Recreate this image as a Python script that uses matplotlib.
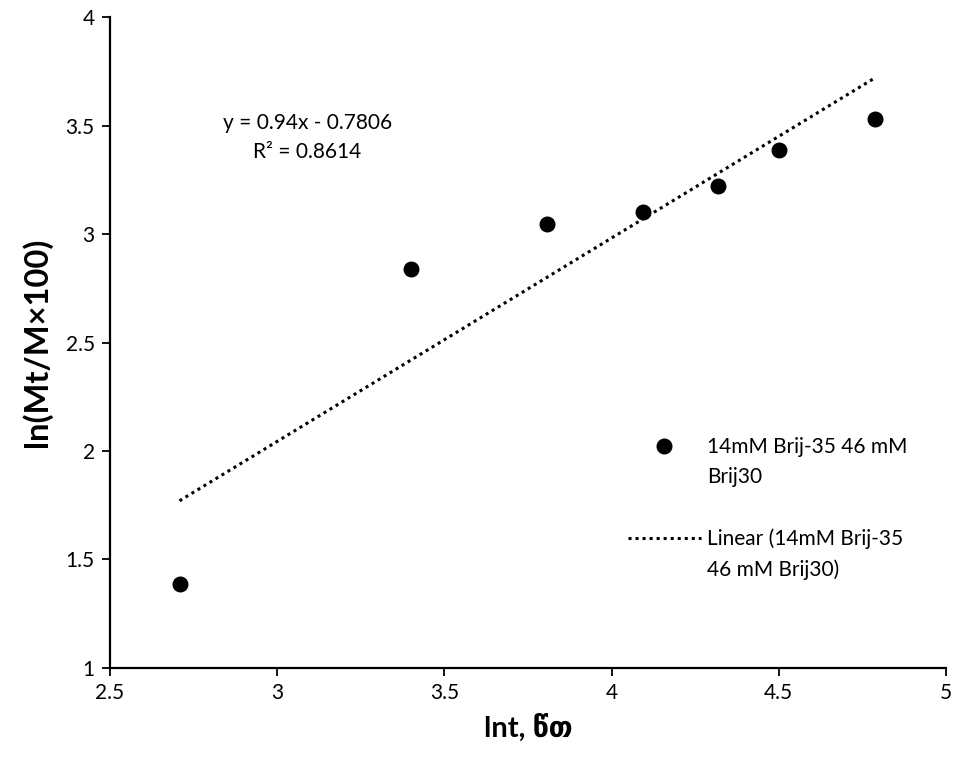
import matplotlib
import numpy as np

matplotlib.use("Agg")
import matplotlib.pyplot as plt
from matplotlib.lines import Line2D

plt.rcParams["font.family"] = ["Lato", "DejaVu Sans"]

# ln(t), t in minutes: 15, 30, 45, 60, 75, 90, 120
LN_T = [2.708, 3.401, 3.807, 4.094, 4.317, 4.500, 4.787]
LN_RELEASE = [1.386, 2.839, 3.048, 3.100, 3.221, 3.387, 3.532]

SERIES_LABEL = ["14mM Brij-35 46 mM", "Brij30"]
TREND_LABEL = ["Linear (14mM Brij-35", "46 mM Brij30)"]
EQUATION = "y = 0.94x - 0.7806\nR² = 0.8614"

X_TICKS = [2.5, 3, 3.5, 4, 4.5, 5]
Y_TICKS = [1, 1.5, 2, 2.5, 3, 3.5, 4]


def main():
    fig = plt.figure(figsize=(9.58, 7.67), dpi=100)
    ax = fig.add_axes([0.1148, 0.1297, 0.8727, 0.8475])

    x = np.array(LN_T)
    y = np.array(LN_RELEASE)
    slope, intercept = np.polyfit(x, y, 1)
    x_fit = np.array([x.min(), x.max()])

    ax.scatter(x, y, s=110, color="black", zorder=3)
    ax.plot(x_fit, slope * x_fit + intercept, color="black", lw=2.2,
            linestyle=(0, (1, 1.3)))

    ax.set_xlim(2.5, 5)
    ax.set_ylim(1, 4)
    ax.set_xticks(X_TICKS)
    ax.set_yticks(Y_TICKS)
    ax.set_xticklabels([f"{v:g}" for v in X_TICKS])
    ax.set_yticklabels([f"{v:g}" for v in Y_TICKS])
    ax.tick_params(direction="out", length=6, width=1.3, labelsize=15,
                   pad=5)
    for side in ("top", "right"):
        ax.spines[side].set_visible(False)
    for side in ("left", "bottom"):
        ax.spines[side].set_linewidth(1.6)

    ax.set_xlabel("lnt, წთ", fontsize=21, fontweight="bold", labelpad=8)
    ax.set_ylabel("ln(Mt/M×100)", fontsize=23.5, fontweight="bold",
                  labelpad=10)

    ax.text(3.09, 3.447, EQUATION, fontsize=15, ha="center", va="center",
            linespacing=1.55)

    # legend rows: wrapped labels, blank row between the two entries
    dot = Line2D([], [], color="black", marker="o", markersize=10.5,
                 linestyle="none")
    dotted = Line2D([], [], color="black", lw=2.2, linestyle=(0, (1, 1.3)))
    blank = Line2D([], [], linestyle="none")
    handles = [dot, blank, blank, dotted, blank]
    labels = [SERIES_LABEL[0], SERIES_LABEL[1], "", TREND_LABEL[0],
              TREND_LABEL[1]]
    ax.legend(handles, labels, loc="upper left",
              bbox_to_anchor=(628 / 958, (767 - 437) / 767),
              bbox_transform=fig.transFigure, frameon=False, fontsize=15,
              handlelength=3.5, handletextpad=0.3, labelspacing=0.5,
              borderpad=0, borderaxespad=0)

    fig.savefig("out.png", dpi=100)
    plt.close(fig)


if __name__ == "__main__":
    main()
